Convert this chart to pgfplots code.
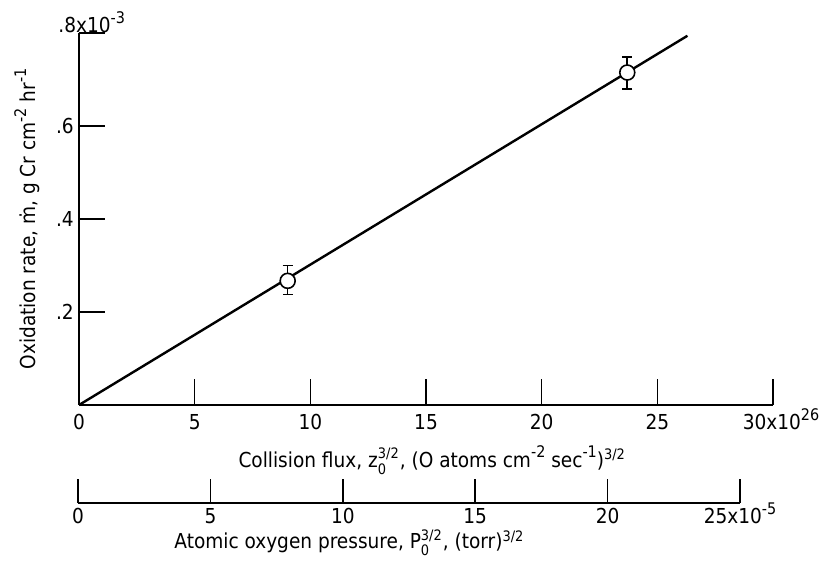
\documentclass[border=0pt]{standalone}
\usepackage{amsmath}
\usepackage{fontspec}
\setmainfont{DejaVu Sans Condensed}
\usepackage{pgfplots}
\pgfplotsset{compat=1.18}
% superscript a bit larger than \textsuperscript, as in the lettering of the original
\newcommand{\sups}[1]{\raisebox{0.45em}{\fontsize{8}{8}\selectfont #1}}
% same, with no height, so tick labels keep one baseline
\newcommand{\tsup}[1]{\smash{\sups{#1}}}

\begin{document}
\fontsize{10.3}{12}\selectfont
\begin{tikzpicture}
% main axis: 1 px of the reference = 0.5pt
\begin{axis}[
    x=11.567pt, y=232.5pt,
    xmin=0, xmax=30, ymin=0, ymax=0.8,
    axis lines=left,
    axis line style={-, line width=1pt},
    tick align=inside,
    major tick length=13pt,
    tick style={line width=0.8pt, black},
    xtick={0,5,...,25},
    xticklabels={0,5,10,15,20,25},
    extra x ticks={30},
    extra x tick labels={30x10\tsup{26}},
    extra x tick style={xticklabel style={xshift=4pt}},
    ytick={0.2,0.4,0.6,0.8},
    yticklabels={.2,.4,.6,},
    xticklabel style={yshift=-1pt},
    yticklabel style={xshift=1pt},
    xlabel={Collision flux, z$^{\text{3/2}}_{\text{0}}$, (O atoms cm\sups{-2} sec\sups{-1})$^{\text{3/2}}$},
    ylabel={Oxidation rate, ṁ, g Cr cm\sups{-2} hr\sups{-1}},
    xlabel style={at={(axis description cs:0.509,-0.148)}, anchor=center},
    ylabel style={at={(axis description cs:-0.075,0.5)}, anchor=center, rotate=0},
    clip=false,
]
\addplot[no marks, line width=1.2pt] coordinates {(0,0) (26.3,0.794)};
\addplot[only marks, mark=*, mark size=3.75pt,
    mark options={fill=white, draw=black, line width=0.8pt},
    error bars/.cd, y dir=both, y explicit,
    error bar style={line width=0.8pt},
    error mark options={rotate=90, mark size=2.5pt, line width=0.8pt}]
    coordinates {(9.02,0.267) += (0,0.033) -= (0,0.029)
                 (23.7,0.715) += (0,0.033) -= (0,0.035)};
\node[anchor=base west, inner sep=0pt, xshift=-10.5pt] at (axis cs:0,0.8) {.8x10\sups{-3}};
\end{axis}

% second scale: atomic oxygen pressure
\begin{axis}[
    at={(-0.5pt,-49pt)}, anchor=south west,
    x=13.24pt, y=1pt,
    xmin=0, xmax=25, ymin=0, ymax=1,
    axis x line*=bottom, axis y line=none,
    axis line style={-, line width=1pt},
    tick align=inside,
    major tick length=12pt,
    tick style={line width=0.8pt, black},
    xtick={0,5,...,25},
    xticklabels={0,5,10,15,20,25x10\tsup{-5}},
    xticklabel style={yshift=1pt},
    xlabel={Atomic oxygen pressure, P$^{\text{3/2}}_{\text{0}}$, (torr)$^{\text{3/2}}$},
    xlabel style={at={(axis description cs:0.41,0)}, anchor=center, yshift=-20pt},
]
\end{axis}
\pgfresetboundingbox
\path[use as bounding box] (-39.5pt,-81pt) rectangle (370pt,202.5pt);
\end{tikzpicture}
\end{document}
